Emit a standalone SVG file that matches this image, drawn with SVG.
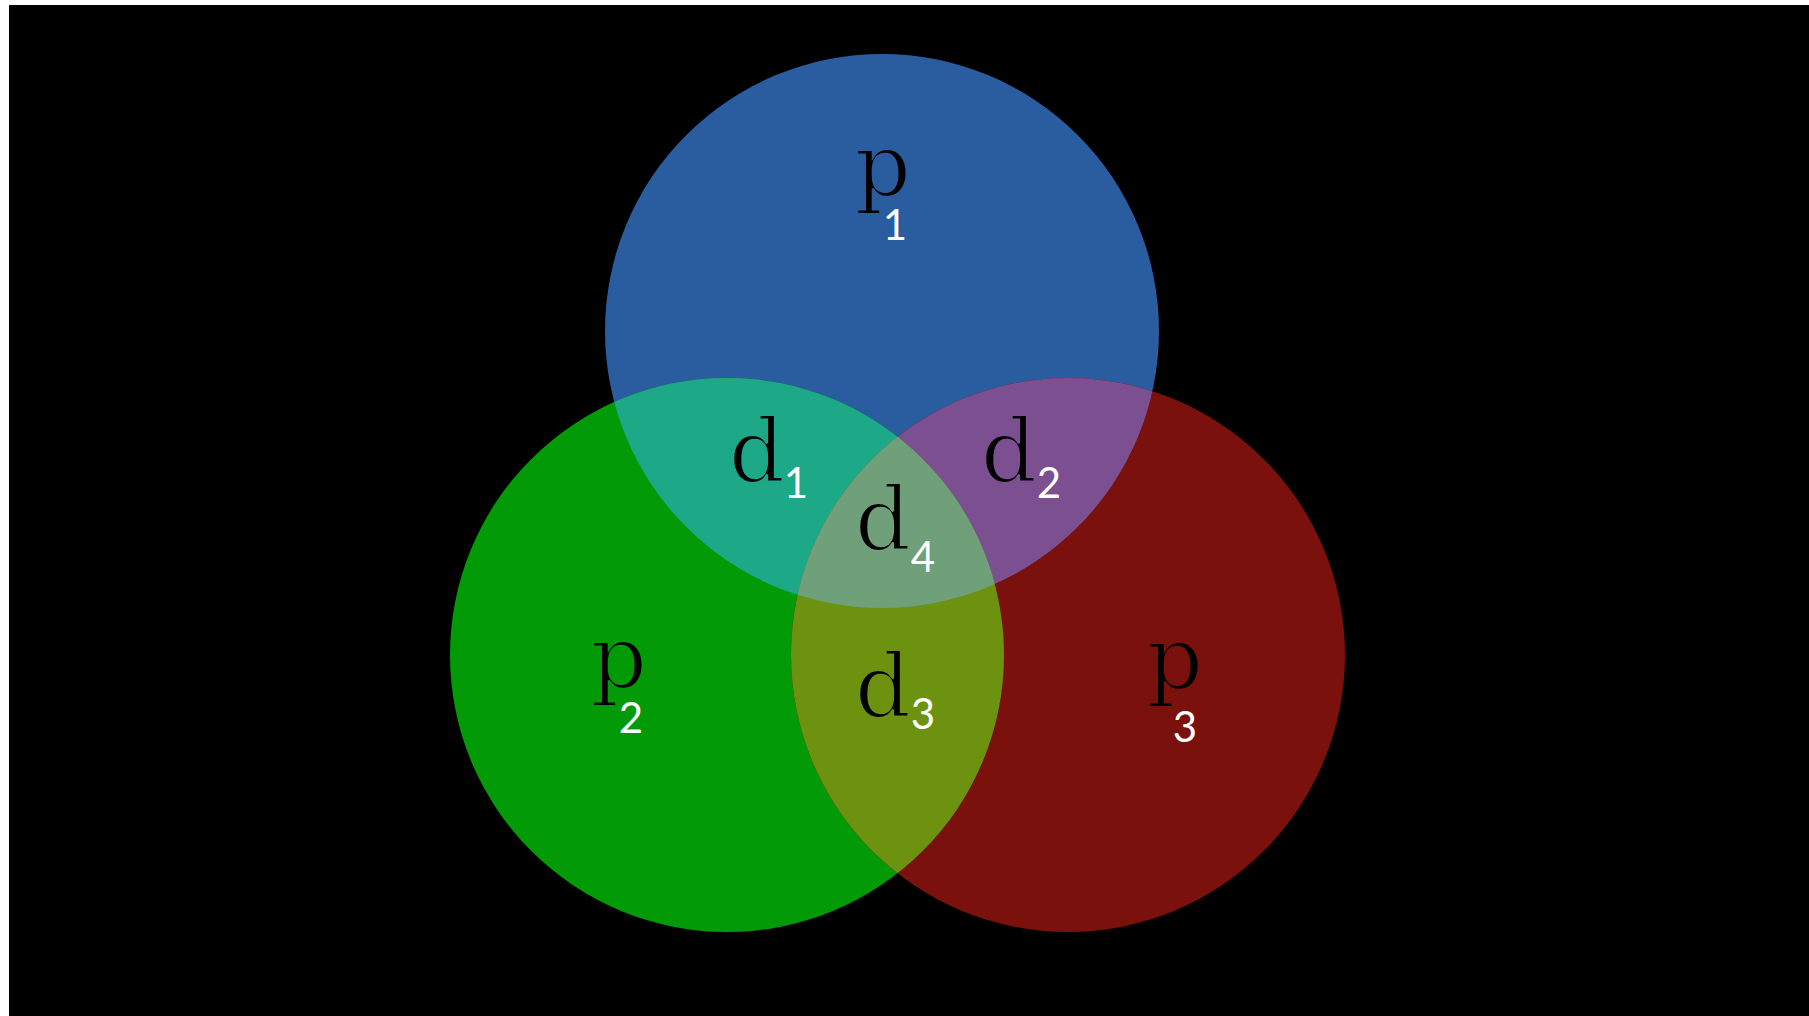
<svg xmlns="http://www.w3.org/2000/svg" width="1809" height="1016" viewBox="0 0 1809 1016">
<style>
.main{font-family:"DejaVu Serif","Liberation Serif",serif;font-size:88px;fill:#000;text-anchor:middle;stroke-width:2.2px}
.sub{font-family:Lato,"Noto Sans","Liberation Sans",sans-serif;font-size:42px;fill:#fff;text-anchor:middle}
</style>
<defs>
<clipPath id="cB"><circle cx="882" cy="331" r="277"/></clipPath>
<clipPath id="cG"><circle cx="727" cy="655" r="277"/></clipPath>
</defs>
<rect x="0" y="0" width="1809" height="1016" fill="#ffffff"/>
<rect x="9" y="5" width="1800" height="1011" fill="#000000"/>
<g id="p1-circle"><circle cx="882" cy="331" r="277" fill="#2A5CA0"/></g>
<g id="p2-circle"><circle cx="727" cy="655" r="277" fill="#039A07"/></g>
<g id="p3-circle"><circle cx="1068" cy="655" r="277" fill="#7A110D"/></g>
<g id="d1-region"><circle cx="727" cy="655" r="277" fill="#1DA887" clip-path="url(#cB)"/></g>
<g id="d2-region"><circle cx="1068" cy="655" r="277" fill="#7B4F90" clip-path="url(#cB)"/></g>
<g id="d3-region"><circle cx="1068" cy="655" r="277" fill="#6C9210" clip-path="url(#cG)"/></g>
<g id="d4-region" clip-path="url(#cB)"><circle cx="1068" cy="655" r="277" fill="#6FA07A" clip-path="url(#cG)"/></g>
<g id="p1"><text class="main" x="883" y="196" stroke="#2A5CA0">p</text><text class="sub" x="895" y="240">1</text></g>
<g id="p2"><text class="main" x="619" y="688" stroke="#039A07">p</text><text class="sub" x="631" y="733">2</text></g>
<g id="p3"><text class="main" x="1175" y="689" stroke="#7A110D">p</text><text class="sub" x="1185" y="742">3</text></g>
<g id="d1"><text class="main" x="757" y="482" stroke="#1DA887">d</text><text class="sub" x="796" y="498">1</text></g>
<g id="d2"><text class="main" x="1009" y="482" stroke="#7B4F90">d</text><text class="sub" x="1049" y="498">2</text></g>
<g id="d3"><text class="main" x="883" y="717" stroke="#6C9210">d</text><text class="sub" x="923" y="729">3</text></g>
<g id="d4"><text class="main" x="883" y="550" stroke="#6FA07A">d</text><text class="sub" x="923" y="572">4</text></g>
</svg>
